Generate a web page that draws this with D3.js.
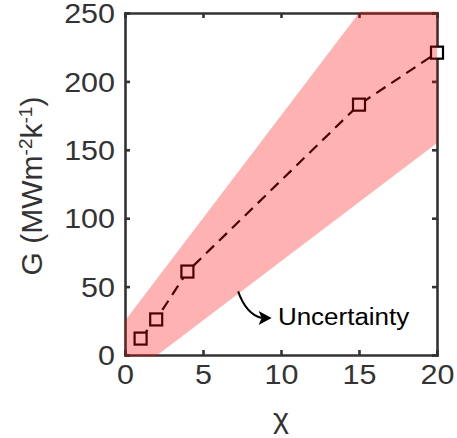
<!DOCTYPE html>
<html><head><meta charset="utf-8">
<script src="https://cdn.jsdelivr.net/npm/d3@7"></script>
<style>body{margin:0;background:#fff;} text{font-family:Arial,"Liberation Sans",sans-serif;}</style>
</head><body>
<svg id="c" width="457" height="438"></svg>
<script>
const chi = [1, 2, 4, 15, 20];
const G = [12, 26, 61, 183, 221];
const bandX = [0, 20];
const bandUpper = [25, 325];
const bandLower = [-18, 155];
const xTicks = [0, 5, 10, 15, 20];
const yTicks = [0, 50, 100, 150, 200, 250];
const annot = {start: [7.25, 46.5], end: [9.4, 27], text: [9.8, 22], label: "Uncertainty"};

const svg = d3.select("#c");
const L = 125, R = 437, T = 13, B = 355;
const x = d3.scaleLinear().domain([0, 20]).range([L, R]);
const y = d3.scaleLinear().domain([0, 250]).range([B, T]);
const sx = 1.13;
const axCol = "#333";

// axes
const gx = svg.append("g").attr("transform", `translate(0,${B})`)
  .call(d3.axisBottom(x).tickValues(xTicks).tickSize(-5).tickPadding(10));
const gy = svg.append("g").attr("transform", `translate(${L},0)`)
  .call(d3.axisLeft(y).tickValues(yTicks).tickSize(-5).tickPadding(10));
const gt = svg.append("g").attr("transform", `translate(0,${T})`)
  .call(d3.axisTop(x).tickValues(xTicks).tickSize(-5).tickFormat(""));
const gr = svg.append("g").attr("transform", `translate(${R},0)`)
  .call(d3.axisRight(y).tickValues(yTicks).tickSize(-5).tickFormat(""));
[gx, gy, gt, gr].forEach(g => {
  g.select(".domain").attr("stroke", axCol).attr("stroke-width", 2.6);
  g.selectAll(".tick line").attr("stroke", axCol).attr("stroke-width", 2.6);
  g.selectAll(".tick text").attr("fill", "#333").attr("font-size", 27);
});
gx.selectAll(".tick text").attr("transform", `scale(${sx},1)`);
gy.selectAll(".tick text")
  .attr("transform", `translate(-10,0) scale(${sx},1) translate(10,0)`)
  .attr("dy", "0.36em");

// labels
svg.append("text").attr("transform", `translate(${(L+R)/2},428) scale(${sx},1)`)
  .attr("text-anchor", "middle").attr("font-size", 27).attr("fill", "#333").text("χ");
const yl = svg.append("text").attr("transform", `translate(42,${(T+B)/2 + 2}) rotate(-90)`)
  .attr("text-anchor", "middle").attr("font-size", 30).attr("fill", "#333");
yl.append("tspan").text("G (MWm");
yl.append("tspan").attr("baseline-shift", "super").attr("font-size", 19).text("-2");
yl.append("tspan").text("k");
yl.append("tspan").attr("baseline-shift", "super").attr("font-size", 19).text("-1");
yl.append("tspan").text(")");

// line + markers
const pts = chi.map((c, i) => [c, G[i]]);
svg.append("path").datum(pts)
  .attr("d", d3.line().x(d => x(d[0])).y(d => y(d[1])))
  .attr("fill", "none").attr("stroke", "#000").attr("stroke-width", 2.2)
  .attr("stroke-dasharray", "11,7");
const s = 12;
svg.selectAll("rect.m").data(pts).join("rect").attr("class", "m")
  .attr("x", d => x(d[0]) - s/2).attr("y", d => y(d[1]) - s/2)
  .attr("width", s).attr("height", s)
  .attr("fill", "#fff").attr("stroke", "#000").attr("stroke-width", 2.2);

// band
svg.append("clipPath").attr("id", "clip").append("rect")
  .attr("x", L - 1.5).attr("y", T - 1.5).attr("width", R - L + 3).attr("height", B - T + 3);
const bandPts = bandX.map((b, i) => [b, bandUpper[i]]).concat(bandX.map((b, i) => [b, bandLower[i]]).reverse());
const bandLine = d3.line().x(d => x(d[0])).y(d => y(d[1]));
svg.append("path").datum(bandPts)
  .attr("d", d => bandLine(d) + "Z")
  .attr("fill", "#ff0000").attr("fill-opacity", 0.3).attr("clip-path", "url(#clip)");

// annotation arrow
const [x0, y0] = [x(annot.start[0]), y(annot.start[1])];
const [x1, y1] = [x(annot.end[0]), y(annot.end[1])];
svg.append("path")
  .attr("d", `M${x0},${y0} Q${x0 + 8},${y1 - 4} ${x1 - 10},${y1}`)
  .attr("fill", "none").attr("stroke", "#000").attr("stroke-width", 2);
svg.append("path")
  .attr("d", `M${x1},${y1} L${x1 - 13},${y1 - 7} L${x1 - 10},${y1} L${x1 - 13},${y1 + 7} Z`)
  .attr("fill", "#000");
svg.append("text").attr("transform", `translate(${x(annot.text[0])},${y(annot.text[1])}) scale(${sx},1)`)
  .attr("font-size", 23).attr("fill", "#000").text(annot.label);
</script>
</body></html>
